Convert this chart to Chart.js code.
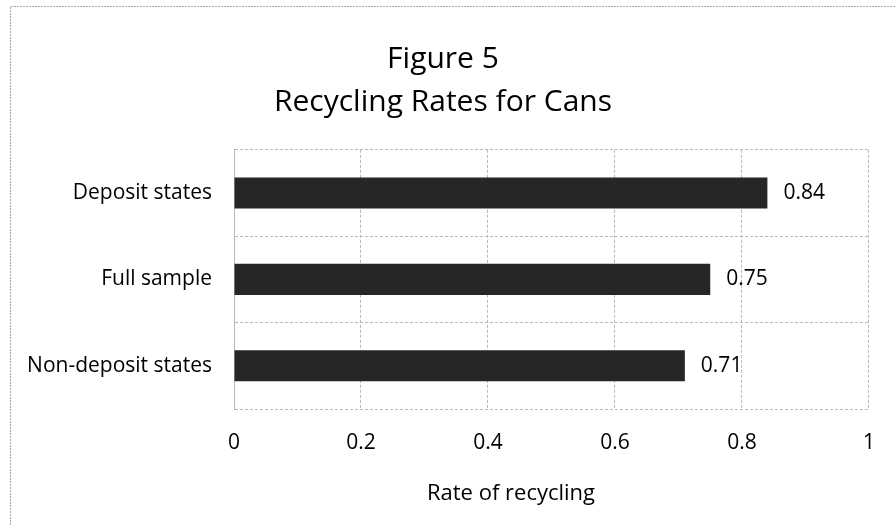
<!DOCTYPE html>
<html>
<head>
<meta charset="utf-8">
<script src="https://cdn.jsdelivr.net/npm/chart.js@4/dist/chart.umd.min.js"></script>
<style>
  body { margin: 0; background: #fff; }
  #wrap { width: 896px; height: 525px; }
</style>
</head>
<body>
<div id="wrap"><canvas id="myChart" width="896" height="525"></canvas></div>
<script>
// Data
var categories = ['Deposit states', 'Full sample', 'Non-deposit states'];
var rates = [0.84, 0.75, 0.71];
var xTicks = [0, 0.2, 0.4, 0.6, 0.8, 1];
var xTitle = 'Rate of recycling';

var FONT = "'Open Sans', sans-serif";
var GRID = '#b8b8b8';

// frame around the whole chart
var framePlugin = {
    id: 'frame',
    beforeDraw: function (chart) {
        var ctx = chart.ctx;
        ctx.save();
        ctx.strokeStyle = '#a8a8a8';
        ctx.lineWidth = 1;
        ctx.setLineDash([2, 1]);
        ctx.beginPath();
        ctx.moveTo(10.5, chart.height);
        ctx.lineTo(10.5, 6.5);
        ctx.lineTo(chart.width, 6.5);
        ctx.stroke();
        ctx.restore();
    }
};

// value labels to the right of the bars, and the x axis title (sits left of centre, like Excel)
var valueLabels = {
    id: 'valueLabels',
    afterDatasetsDraw: function (chart) {
        var ctx = chart.ctx;
        var meta = chart.getDatasetMeta(0);
        ctx.save();
        ctx.fillStyle = '#000';
        ctx.font = '21px ' + FONT;
        ctx.textAlign = 'left';
        ctx.textBaseline = 'middle';
        meta.data.forEach(function (bar, i) {
            ctx.fillText(rates[i].toFixed(2), bar.x + 16, bar.y);
        });
        ctx.font = '22px ' + FONT;
        ctx.textAlign = 'center';
        ctx.fillText(xTitle, 511, 494);
        ctx.restore();
    }
};

new Chart('myChart', {
    type: 'bar',
    plugins: [framePlugin, valueLabels],
    data: {
        labels: categories,
        datasets: [{
            data: rates,
            backgroundColor: '#262626',
            borderWidth: 0,
            barPercentage: 0.36,
            categoryPercentage: 1
        }]
    },
    options: {
        indexAxis: 'y',
        responsive: false,
        animation: false,
        layout: { padding: { left: 0, right: 10, top: 0, bottom: 0 } },
        plugins: {
            legend: { display: false },
            tooltip: { enabled: false },
            title: {
                display: true,
                text: ['Figure 5', 'Recycling Rates for Cans'],
                color: '#000',
                font: { family: FONT, size: 30, weight: 'normal', lineHeight: 1.43 },
                padding: { top: 38, bottom: 26 }
            }
        },
        scales: {
            x: {
                min: 0,
                max: 1,
                afterBuildTicks: function (scale) {
                    scale.ticks = xTicks.map(function (v) { return { value: v }; });
                },
                afterFit: function (scale) { scale.height = 116; },
                grid: {
                    color: GRID,
                    drawTicks: false,
                    tickLength: 0
                },
                border: { display: false, dash: [3, 2] },
                ticks: {
                    color: '#000',
                    padding: 21,
                    font: { family: FONT, size: 21 },
                    callback: function (v) { return String(Math.round(v * 10) / 10); }
                }
            },
            y: {
                afterFit: function (scale) { scale.width = 234; },
                grid: {
                    color: GRID,
                    offset: true,
                    drawTicks: false,
                    tickLength: 0
                },
                border: { color: GRID, dash: [3, 2] },
                ticks: {
                    color: '#000',
                    padding: 22,
                    font: { family: FONT, size: 21 }
                }
            },
            // empty strip on the right so the title centres like the original
            yRight: {
                type: 'linear',
                position: 'right',
                afterFit: function (scale) { scale.width = 16; },
                grid: { display: false },
                border: { display: false },
                ticks: { display: false }
            }
        }
    }
});
</script>
</body>
</html>
